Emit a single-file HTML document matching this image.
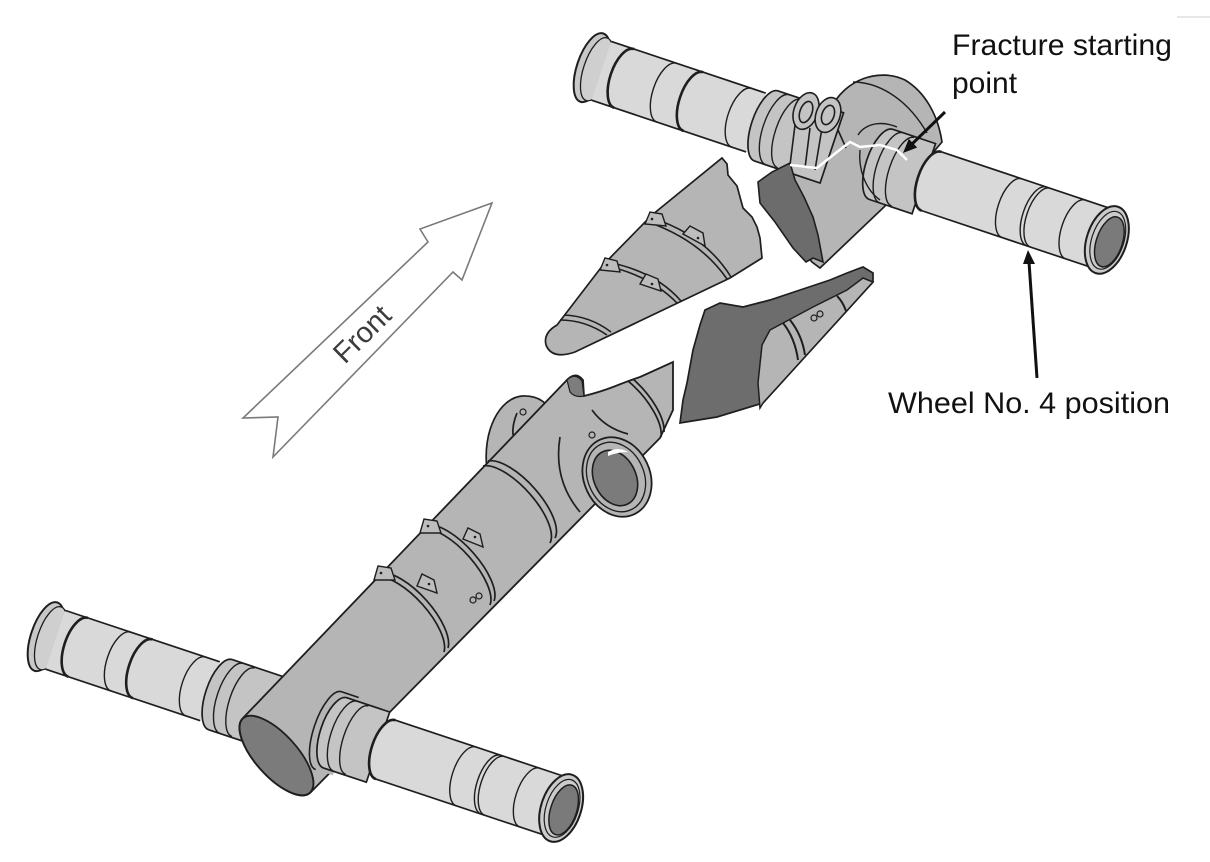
<!DOCTYPE html>
<html><head><meta charset="utf-8"><style>
html,body{margin:0;padding:0;background:#fff;}
svg{display:block;}
text{font-family:"Liberation Sans",sans-serif;}
</style></head><body>
<svg width="1210" height="862" viewBox="0 0 1210 862" xmlns="http://www.w3.org/2000/svg">
<rect width="1210" height="862" fill="#fff"/>
<line x1="1177" y1="17" x2="1210" y2="17" stroke="#cfcfcf" stroke-width="1"/>

<!-- Front arrow -->
<polygon points="492,203 462,280 453,272 273,457 278,417 243,418 428,242 420,229" fill="#fff" stroke="#7a7a7a" stroke-width="1.6"/>
<text x="0" y="10" transform="translate(362,334) rotate(-44.5)" text-anchor="middle" font-size="29" fill="#3c3c3c">Front</text>

<!-- ===== TOP AXLE ===== -->
<path d="M830,110 C845,78 880,68 905,80 C925,92 938,115 942,142 L905,185 L884,207 L820,268 L812,262 L765,205 L790,168 L815,150 Z" fill="#b5b5b5" stroke="#1e1e1e" stroke-width="1.7"/>
<g transform="translate(590,67) rotate(18.5)">
  <ellipse cx="2" cy="0" rx="15" ry="36" fill="#c8c8c8" stroke="#1e1e1e" stroke-width="2"/>
  <ellipse cx="7" cy="0" rx="13" ry="33" fill="#cfcfcf" stroke="#1e1e1e" stroke-width="1.3"/>
  <path d="M12,-31 L175,-31 L175,31 L12,31 Z" fill="#d9d9d9"/>
  <path d="M12,-31 L175,-31 M12,31 L175,31" fill="none" stroke="#1e1e1e" stroke-width="1.7"/>
  <g fill="none" stroke="#1e1e1e">
    <path d="M36,-31 A14 31 0 0 0 36,31" stroke-width="2.6"/>
    <path d="M81,-31 A14 31 0 0 0 81,31" stroke-width="1.4"/>
    <path d="M109,-31 A14 31 0 0 0 109,31" stroke-width="2.6"/>
    <path d="M160,-31 A14 31 0 0 0 160,31" stroke-width="1.4"/>
  </g>
  <path d="M186,-37 L255,-37 L255,37 L186,37 A15 37 0 0 1 186,-37 Z" fill="#c4c4c4" stroke="#1e1e1e" stroke-width="1.7"/>
  <g fill="none" stroke="#1e1e1e" stroke-width="1.4">
    <path d="M198,-37 A15 37 0 0 0 198,37"/>
    <path d="M210,-36 A14 36 0 0 0 210,36"/>
  </g>
  <path d="M307,-37 L352,-37 L352,37 L307,37 A15 37 0 0 1 307,-37 Z" fill="#c4c4c4" stroke="#1e1e1e" stroke-width="1.7"/>
  <g fill="none" stroke="#1e1e1e" stroke-width="1.4">
    <path d="M318,-37 A15 37 0 0 0 318,37"/>
    <path d="M330,-36 A14 36 0 0 0 330,36"/>
  </g>
  <path d="M360,-31 L545,-31 L545,31 L360,31 A14 31 0 0 1 360,-31 Z" fill="#d9d9d9" stroke="#1e1e1e" stroke-width="1.7"/>
  <path d="M360,-31 A14 31 0 0 0 360,31" fill="none" stroke="#1e1e1e" stroke-width="2.6"/>
  <g fill="none" stroke="#1e1e1e">
    <path d="M445,-31 A14 31 0 0 0 445,31" stroke-width="1.4"/>
    <path d="M471,-31 A14 31 0 0 0 471,31" stroke-width="1.4"/>
    <path d="M475,-31 A14 31 0 0 0 475,31" stroke-width="1.4"/>
    <path d="M512,-31 A14 31 0 0 0 512,31" stroke-width="1.4"/>
  </g>
  <ellipse cx="545" cy="0" rx="20" ry="35" fill="#cbcbcb" stroke="#1e1e1e" stroke-width="2"/>
  <ellipse cx="546" cy="0" rx="16" ry="30" fill="none" stroke="#1e1e1e" stroke-width="1.2"/>
  <ellipse cx="548" cy="1" rx="13" ry="26" fill="#7a7a7a" stroke="#1e1e1e" stroke-width="1.5"/>
</g>
<!-- dark fracture piece B -->
<path d="M758,182 L772,172 L790,163 L795,180 L804,197 L813,217 L818,235 L823,262 L813,258 L806,262 L793,248 L775,222 L760,203 Z" fill="#6c6c6c" stroke="#1e1e1e" stroke-width="1.6"/>
<g fill="none" stroke="#1e1e1e" stroke-width="1.4">
  <path d="M853,82 C875,82 905,95 927,133"/>
  <path d="M858,135 C865,124 880,120 897,127"/>
  <path d="M860,150 C858,170 866,190 880,200"/>
</g>
<!-- loops -->
<g stroke="#1e1e1e" stroke-width="1.6">
  <path d="M795,125 L790,165 M810,128 L805,168 M822,128 L815,170 M838,130 L846,148" fill="none"/>
  <ellipse cx="806" cy="111" rx="12" ry="19" transform="rotate(20 806 111)" fill="#c4c4c4"/>
  <ellipse cx="806" cy="112" rx="6" ry="11" transform="rotate(20 806 112)" fill="#c4c4c4"/>
  <ellipse cx="828" cy="115" rx="12" ry="18" transform="rotate(20 828 115)" fill="#c4c4c4"/>
  <ellipse cx="828" cy="115" rx="6" ry="10" transform="rotate(20 828 115)" fill="#c4c4c4"/>
</g>
<polyline points="790,165 800,166 807,167 817,168 827,160 837,152 850,142 860,147 870,146 880,145 897,150 907,160" fill="none" stroke="#fff" stroke-width="2.5"/>

<!-- ===== FRAGMENT A ===== -->
<path d="M557,325 L603,265 L652,215 L722,158 L727,164 L728,175 L737,186 L740,197 L743,208 L752,217 L757,227 L760,238 L762,258 L730,278 L575,352 Q552,360 546,345 Q543,333 557,325 Z" fill="#b5b5b5" stroke="#1e1e1e" stroke-width="1.7"/>
<g fill="none" stroke="#1e1e1e" stroke-width="1.6">
  <path d="M560,320 Q585,320 607,335"/>
  <path d="M564,315 Q590,316 611,332"/>
  <path d="M603,265 Q650,275 677,303"/>
  <path d="M607,262 Q655,271 681,301"/>
  <path d="M648,222 Q700,240 727,279"/>
  <path d="M652,218 Q705,235 731,277"/>
</g>
<g fill="#bdbdbd" stroke="#1e1e1e" stroke-width="1.4">
  <polygon points="645,224 650,212 662,214 666,226"/>
  <polygon points="683,234 690,226 703,233 705,246"/>
  <polygon points="600,270 605,258 617,261 620,272"/>
  <polygon points="640,284 646,274 658,279 661,291"/>
</g>
<g fill="#1e1e1e"><circle cx="652" cy="219" r="1.3"/><circle cx="698" cy="238" r="1.3"/><circle cx="607" cy="265" r="1.3"/><circle cx="652" cy="284" r="1.3"/></g>

<!-- ===== FRAGMENT C ===== -->
<path d="M705,310 L720,303 L743,307 L770,300 L800,290 L830,280 L847,273 L863,267 L873,273 L873,282 L763,403 L717,417 L680,423 L683,400 L687,383 L693,350 L700,325 Z" fill="#6d6d6d" stroke="#1e1e1e" stroke-width="1.7"/>
<path d="M873,282 L863,278 L847,290 L813,307 L770,330 L762,345 L758,383 L760,408 L763,403 Z" fill="#b5b5b5" stroke="#1e1e1e" stroke-width="1.5"/>
<g fill="none" stroke="#1e1e1e" stroke-width="2">
  <path d="M783,323 Q795,338 798,360"/>
  <path d="M790,320 Q802,335 805,355"/>
  <path d="M837,296 Q843,302 846,311"/>
</g>
<g fill="none" stroke="#1e1e1e" stroke-width="1.2"><circle cx="814" cy="318" r="3"/><circle cx="820" cy="314" r="3"/></g>

<!-- ===== BOTTOM AXLE (left part) ===== -->
<g transform="translate(44,636) rotate(18.4)">
  <ellipse cx="2" cy="0" rx="15" ry="36" fill="#c8c8c8" stroke="#1e1e1e" stroke-width="2"/>
  <ellipse cx="7" cy="0" rx="13" ry="33" fill="#cfcfcf" stroke="#1e1e1e" stroke-width="1.3"/>
  <path d="M12,-31 L175,-31 L175,31 L12,31 Z" fill="#d9d9d9"/>
  <path d="M12,-31 L175,-31 M12,31 L175,31" fill="none" stroke="#1e1e1e" stroke-width="1.7"/>
  <g fill="none" stroke="#1e1e1e">
    <path d="M36,-31 A14 31 0 0 0 36,31" stroke-width="2.6"/>
    <path d="M81,-31 A14 31 0 0 0 81,31" stroke-width="1.4"/>
    <path d="M104,-31 A14 31 0 0 0 104,31" stroke-width="2.6"/>
    <path d="M160,-31 A14 31 0 0 0 160,31" stroke-width="1.4"/>
  </g>
  <path d="M186,-37 L255,-37 L255,37 L186,37 A15 37 0 0 1 186,-37 Z" fill="#c4c4c4" stroke="#1e1e1e" stroke-width="1.7"/>
  <g fill="none" stroke="#1e1e1e" stroke-width="1.4">
    <path d="M198,-37 A15 37 0 0 0 198,37"/>
    <path d="M210,-36 A14 36 0 0 0 210,36"/>
  </g>
</g>

<!-- ===== MAIN BEAM ===== -->
<path d="M487,470 C482,430 500,398 522,396 C540,395 550,405 550,415 L540,425 Z" fill="#b5b5b5" stroke="#1e1e1e" stroke-width="1.7"/>
<path d="M243,718 L565,382 Q575,370 583,380 L584,396 Q600,392 613,387 Q628,381 640,377 L673,362 L673,410 L660,438 L310,793 A50 21 48 0 1 243,718 Z" fill="#b5b5b5" stroke="#1e1e1e" stroke-width="1.8"/>
<path d="M567,380 Q575,372 582,381 L584,396 Q575,398 570,392 Z" fill="#7d7d7d" stroke="#1e1e1e" stroke-width="1.2"/>
<g fill="none" stroke="#1e1e1e" stroke-width="1.7">
  <path d="M377,577 A52 21 48 0 1 444,652"/>
  <path d="M381,573 A52 21 48 0 1 448,648"/>
  <path d="M423,529 A52 21 48 0 1 490,605"/>
  <path d="M427,525 A52 21 48 0 1 494,601"/>
  <path d="M483,466 A52 21 48 0 1 550,543"/>
  <path d="M488,461 A52 21 48 0 1 555,538"/>
  <path d="M628,381 A50 21 48 0 1 661,437"/>
  <path d="M633,379 A50 21 48 0 1 664,432"/>
  <path d="M560,437 Q553,480 580,512"/>
  <path d="M592,410 Q605,428 628,434"/>
  <path d="M517,413 Q512,425 513,435"/>
</g>
<g fill="#bdbdbd" stroke="#1e1e1e" stroke-width="1.4">
  <polygon points="374,580 378,566 391,568 395,580"/>
  <polygon points="417,586 422,574 434,580 437,593"/>
  <polygon points="420,533 424,519 437,521 441,533"/>
  <polygon points="463,539 468,528 480,534 483,547"/>
</g>
<g fill="#1e1e1e"><circle cx="381" cy="573" r="1.3"/><circle cx="429" cy="584" r="1.3"/><circle cx="428" cy="526" r="1.3"/><circle cx="475" cy="537" r="1.3"/></g>
<g fill="none" stroke="#1e1e1e" stroke-width="1.2">
  <circle cx="473" cy="600" r="3"/><circle cx="479" cy="596" r="3"/>
  <circle cx="523" cy="412" r="3"/><circle cx="592" cy="435" r="3"/>
</g>
<!-- socket -->
<ellipse cx="617" cy="477" rx="33" ry="41" transform="rotate(-25 617 477)" fill="#b5b5b5" stroke="#1e1e1e" stroke-width="1.8"/>
<ellipse cx="616" cy="477" rx="28" ry="36" transform="rotate(-25 616 477)" fill="none" stroke="#1e1e1e" stroke-width="1.3"/>
<ellipse cx="615" cy="478" rx="21" ry="29" transform="rotate(-25 615 478)" fill="#7b7b7b" stroke="#1e1e1e" stroke-width="1.6"/>
<path d="M608,452 Q618,446 628,452 Q618,452 608,456 Z" fill="#fff"/>
<!-- beam end -->
<ellipse cx="276.5" cy="755.5" rx="50" ry="21" transform="rotate(48 276.5 755.5)" fill="#7b7b7b" stroke="#1e1e1e" stroke-width="1.8"/>

<!-- ===== BOTTOM AXLE (right part) ===== -->
<g transform="translate(44,636) rotate(18.4)">
  <path d="M318,-41 L300,-41 A15 41 0 0 0 300,41 L318,41 Z" fill="#b5b5b5"/>
  <path d="M300,-41 A15 41 0 0 0 300,41 M300,-41 L318,-41" fill="none" stroke="#1e1e1e" stroke-width="1.6"/>
  <path d="M307,-37 L352,-37 L352,37 L307,37 A15 37 0 0 1 307,-37 Z" fill="#c4c4c4" stroke="#1e1e1e" stroke-width="1.7"/>
  <g fill="none" stroke="#1e1e1e" stroke-width="1.4">
    <path d="M318,-37 A15 37 0 0 0 318,37"/>
    <path d="M330,-36 A14 36 0 0 0 330,36"/>
  </g>
  <path d="M360,-31 L545,-31 L545,31 L360,31 A14 31 0 0 1 360,-31 Z" fill="#d9d9d9" stroke="#1e1e1e" stroke-width="1.7"/>
  <path d="M360,-31 A14 31 0 0 0 360,31" fill="none" stroke="#1e1e1e" stroke-width="2.6"/>
  <g fill="none" stroke="#1e1e1e">
    <path d="M445,-31 A14 31 0 0 0 445,31" stroke-width="1.4"/>
    <path d="M471,-31 A14 31 0 0 0 471,31" stroke-width="1.4"/>
    <path d="M475,-31 A14 31 0 0 0 475,31" stroke-width="1.4"/>
    <path d="M512,-31 A14 31 0 0 0 512,31" stroke-width="1.4"/>
  </g>
  <ellipse cx="545" cy="0" rx="20" ry="35" fill="#cbcbcb" stroke="#1e1e1e" stroke-width="2"/>
  <ellipse cx="546" cy="0" rx="16" ry="30" fill="none" stroke="#1e1e1e" stroke-width="1.2"/>
  <ellipse cx="548" cy="1" rx="13" ry="26" fill="#7a7a7a" stroke="#1e1e1e" stroke-width="1.5"/>
</g>

<!-- ===== LABELS & ARROWS ===== -->
<text x="952" y="55" font-size="30" fill="#111" textLength="220" lengthAdjust="spacingAndGlyphs">Fracture starting</text>
<text x="952" y="93" font-size="30" fill="#111">point</text>
<line x1="945" y1="112" x2="911" y2="145" stroke="#111" stroke-width="3"/>
<polygon points="903,153 917.2,147.5 908.8,138.9" fill="#111"/>
<line x1="1037" y1="378" x2="1029" y2="262" stroke="#111" stroke-width="3"/>
<polygon points="1028,250 1035,264 1023,264" fill="#111"/>
<text x="888" y="413" font-size="30" fill="#111" textLength="282" lengthAdjust="spacingAndGlyphs">Wheel No. 4 position</text>
</svg>
</body></html>
